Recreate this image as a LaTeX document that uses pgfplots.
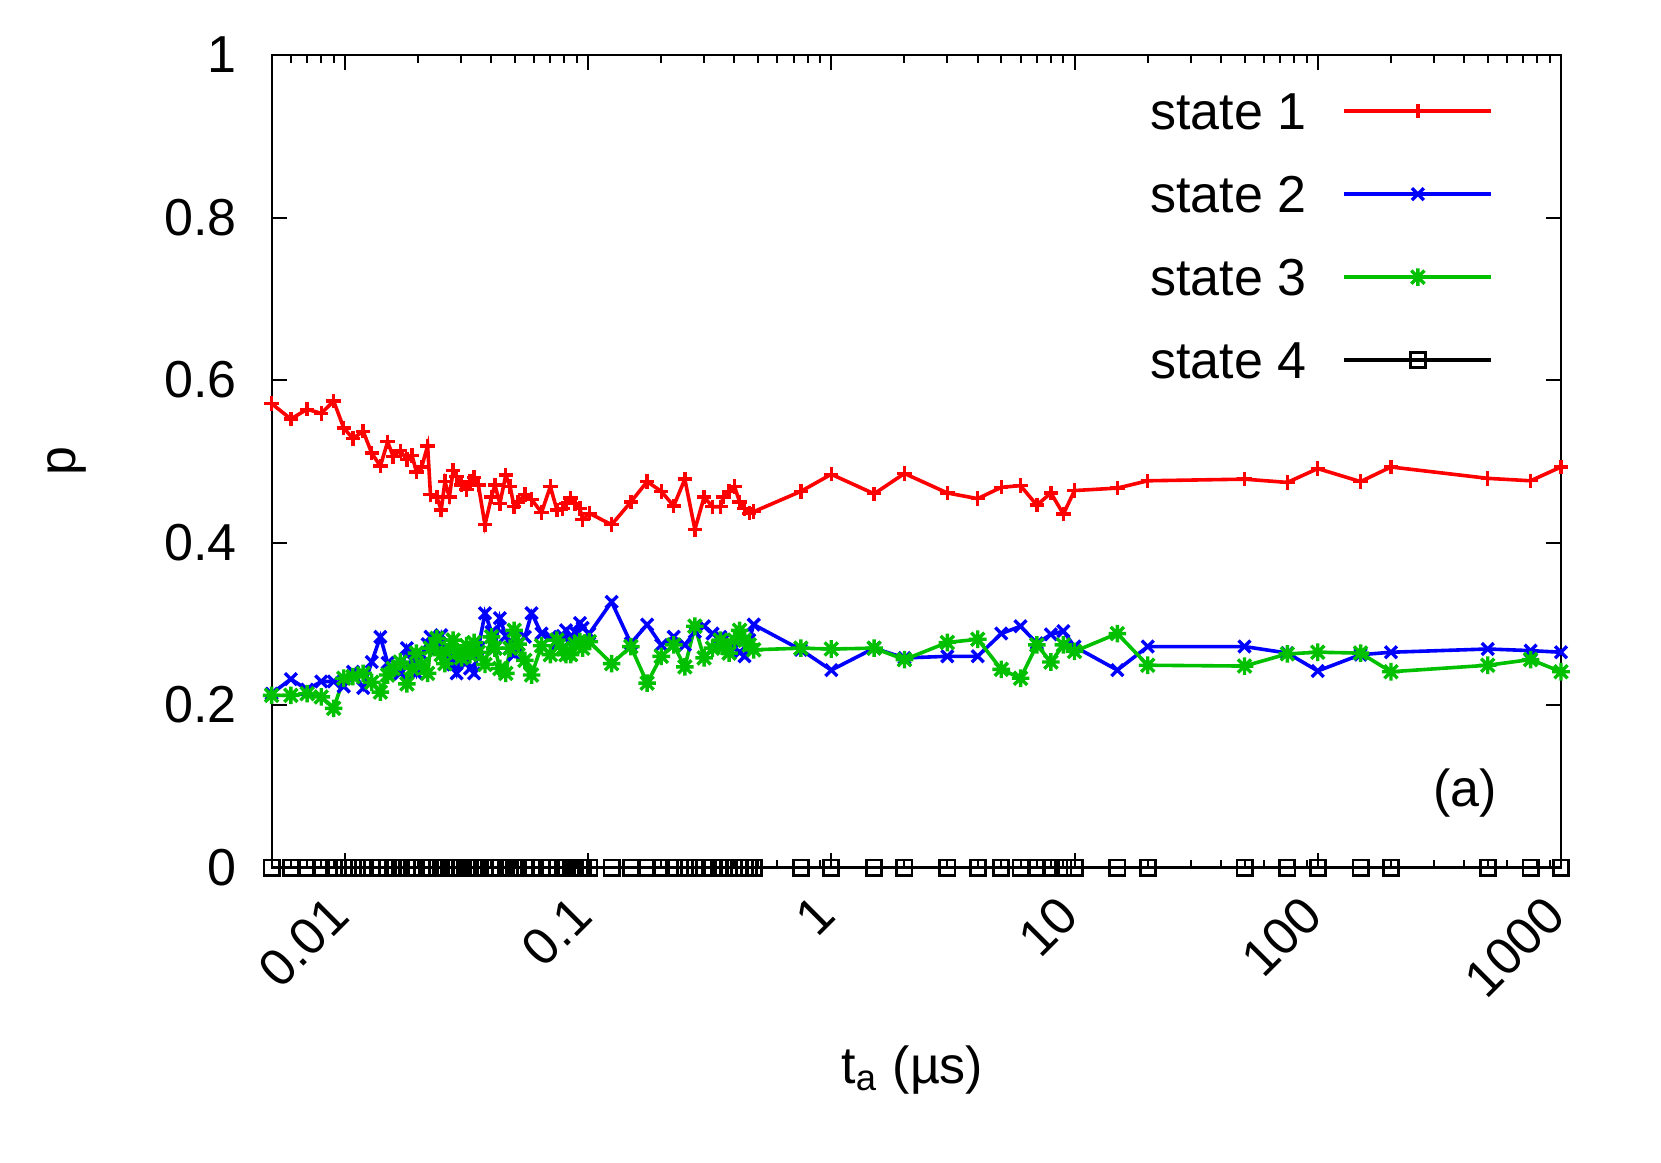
\documentclass[border=0pt]{standalone}
\usepackage{fontspec}
\setmainfont{Liberation Sans}
\usepackage{pgfplots}
\usepackage{pgfplotstable}
\pgfplotsset{compat=1.18}
\definecolor{gpred}{RGB}{255,0,0}
\definecolor{gpblue}{RGB}{0,0,255}
\definecolor{gpgreen}{RGB}{0,192,0}
\pgfdeclareplotmark{gpstar}{%
  \pgfpathmoveto{\pgfqpoint{-\pgfplotmarksize}{0pt}}\pgfpathlineto{\pgfqpoint{\pgfplotmarksize}{0pt}}%
  \pgfpathmoveto{\pgfqpoint{0pt}{-\pgfplotmarksize}}\pgfpathlineto{\pgfqpoint{0pt}{\pgfplotmarksize}}%
  \pgfpathmoveto{\pgfqpoint{-0.75\pgfplotmarksize}{-0.75\pgfplotmarksize}}\pgfpathlineto{\pgfqpoint{0.75\pgfplotmarksize}{0.75\pgfplotmarksize}}%
  \pgfpathmoveto{\pgfqpoint{-0.75\pgfplotmarksize}{0.75\pgfplotmarksize}}\pgfpathlineto{\pgfqpoint{0.75\pgfplotmarksize}{-0.75\pgfplotmarksize}}%
  \pgfusepathqstroke}

\pgfplotstableread{
x s1 s2 s3 s4
0.005 0.571 0.214 0.212 0
0.006 0.552 0.232 0.212 0
0.007 0.564 0.219 0.214 0
0.008 0.559 0.229 0.210 0
0.009 0.574 0.229 0.196 0
0.0099 0.541 0.223 0.233 0
0.0108 0.528 0.241 0.235 0
0.0119 0.537 0.221 0.239 0
0.0129 0.510 0.253 0.228 0
0.0140 0.494 0.284 0.216 0
0.0150 0.524 0.252 0.237 0
0.0158 0.506 0.245 0.245 0
0.0169 0.513 0.239 0.253 0
0.0180 0.502 0.270 0.226 0
0.0189 0.507 0.255 0.245 0
0.0197 0.487 0.239 0.264 0
0.0207 0.493 0.262 0.250 0
0.0219 0.519 0.275 0.239 0
0.0225 0.459 0.284 0.270 0
0.0239 0.456 0.270 0.282 0
0.0249 0.440 0.286 0.262 0
0.0258 0.475 0.270 0.251 0
0.0269 0.456 0.260 0.270 0
0.0279 0.489 0.250 0.280 0
0.0288 0.481 0.239 0.265 0
0.0302 0.471 0.262 0.258 0
0.0317 0.465 0.253 0.273 0
0.0327 0.475 0.245 0.262 0
0.0340 0.480 0.239 0.277 0
0.0354 0.471 0.270 0.265 0
0.0377 0.422 0.313 0.250 0
0.0401 0.456 0.290 0.284 0
0.0414 0.471 0.270 0.270 0
0.0434 0.448 0.307 0.245 0
0.0459 0.483 0.285 0.239 0
0.0478 0.469 0.270 0.270 0
0.0497 0.444 0.262 0.292 0
0.0516 0.450 0.275 0.275 0
0.0550 0.459 0.284 0.255 0
0.0586 0.453 0.313 0.237 0
0.0644 0.437 0.288 0.273 0
0.0700 0.469 0.284 0.262 0
0.0745 0.440 0.275 0.280 0
0.0787 0.442 0.285 0.270 0
0.0812 0.448 0.292 0.262 0
0.0848 0.455 0.280 0.262 0
0.0883 0.448 0.290 0.275 0
0.0926 0.442 0.301 0.278 0
0.0950 0.428 0.295 0.270 0
0.1012 0.436 0.288 0.278 0
0.125 0.422 0.327 0.251 0
0.15 0.450 0.276 0.272 0
0.175 0.475 0.299 0.227 0
0.2 0.463 0.274 0.260 0
0.225 0.445 0.284 0.274 0
0.25 0.478 0.274 0.247 0
0.275 0.416 0.290 0.297 0
0.3 0.456 0.297 0.258 0
0.325 0.444 0.288 0.270 0
0.35 0.444 0.284 0.280 0
0.36 0.456 0.280 0.272 0
0.38 0.463 0.276 0.264 0
0.4 0.469 0.270 0.280 0
0.42 0.450 0.265 0.292 0
0.44 0.442 0.260 0.280 0
0.46 0.436 0.280 0.274 0
0.48 0.438 0.299 0.268 0
0.75 0.463 0.268 0.270 0
1 0.484 0.243 0.269 0
1.5 0.460 0.270 0.270 0
2 0.485 0.258 0.256 0
3 0.461 0.260 0.277 0
4 0.454 0.260 0.281 0
5 0.468 0.288 0.244 0
6 0.470 0.297 0.233 0
7 0.446 0.276 0.274 0
8 0.461 0.287 0.253 0
9 0.435 0.291 0.274 0
10 0.464 0.272 0.266 0
15 0.467 0.243 0.288 0
20 0.476 0.272 0.249 0
50 0.478 0.272 0.248 0
75 0.474 0.264 0.263 0
100 0.491 0.242 0.265 0
150 0.475 0.262 0.264 0
200 0.493 0.265 0.241 0
500 0.479 0.269 0.249 0
750 0.476 0.267 0.256 0
1000 0.493 0.265 0.241 0
}\datatable

\begin{document}
\begin{tikzpicture}
\begin{axis}[
  name=ax,
  scale only axis,
  width=322.35pt, height=203.15pt,
  font=\fontsize{13}{15.6}\selectfont,
  xmode=log,
  xmin=0.005, xmax=1000,
  ymin=0, ymax=1,
  xtick={0.01,0.1,1,10,100,1000},
  xticklabels={0.01,0.1,1,10,100,1000},
  minor xtick={0.005,0.006,0.007,0.008,0.009,0.02,0.03,0.04,0.05,0.06,0.07,0.08,0.09,0.2,0.3,0.4,0.5,0.6,0.7,0.8,0.9,2,3,4,5,6,7,8,9,20,30,40,50,60,70,80,90,200,300,400,500,600,700,800,900},
  ytick={0,0.2,0.4,0.6,0.8,1},
  yticklabels={0,0.2,0.4,0.6,0.8,1},
  tick align=inside,
  tick pos=both,
  major tick length=3.75pt,
  minor tick length=2pt,
  every tick/.style={black, line width=0.5pt},
  axis line style={line width=0.5pt},
  xticklabel style={xshift=-4.7pt, yshift=-6.05pt, rotate=45, anchor=north east, inner sep=0pt},
  yticklabel style={anchor=east, inner sep=0pt, xshift=-8.5pt},
  xlabel={t\textsubscript{a} (µs)},
  ylabel={p},
  every axis x label/.style={at={(axis description cs:0.497,-0.249)}, anchor=center},
  every axis y label/.style={at={(axis description cs:-0.159,0.5)}, anchor=center, rotate=90},
  clip=false,
  legend plot pos=right,
  legend cell align=right,
  legend image code/.code={\draw[#1, mark repeat=2, mark phase=2] plot coordinates {(0pt,0pt) (18.4pt,0pt) (36.75pt,0pt)};},
  legend style={at={(rel axis cs:0.948,0.955)}, anchor=north east, draw=none, fill=none, inner sep=0pt, row sep=11.35pt, column sep=9pt,
    nodes={inner sep=0pt, text height=9.4pt, text depth=0pt}},
]
\addplot[gpred, line width=0.9pt, mark=+, mark size=1.8pt, mark options={solid, line width=0.85pt}] table[x=x, y=s1] {\datatable};
\addlegendentry{state 1}
\addplot[gpblue, line width=0.9pt, mark=x, mark size=2.1pt, mark options={solid, line width=0.85pt}] table[x=x, y=s2] {\datatable};
\addlegendentry{state 2}
\addplot[gpgreen, line width=0.9pt, mark=gpstar, mark size=2.2pt, mark options={solid, line width=0.85pt}] table[x=x, y=s3] {\datatable};
\addlegendentry{state 3}
\addplot[black, line width=0.9pt, mark=square, mark size=1.9pt, mark options={solid, line width=0.7pt}] table[x=x, y=s4] {\datatable};
\addlegendentry{state 4}
\node[anchor=center] at (rel axis cs:0.9256,0.092) {(a)};
\coordinate (bl) at (rel axis cs:0,0);
\coordinate (tr) at (rel axis cs:1,1);
\end{axis}
\path ([xshift=-67.9pt,yshift=-73.85pt]bl) rectangle ([xshift=25pt,yshift=13.75pt]tr);
\end{tikzpicture}
\end{document}
